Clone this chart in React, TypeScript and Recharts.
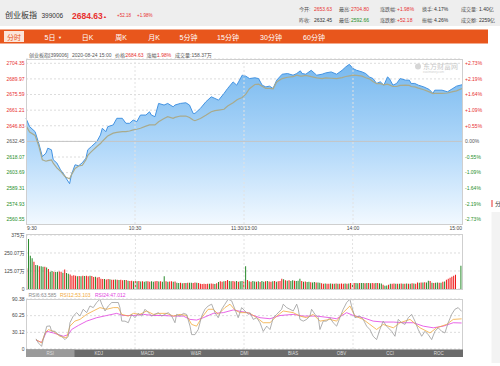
import React from 'react';
import {
  ComposedChart, Area, Line, XAxis, YAxis, CartesianGrid, ReferenceLine,
  BarChart, Bar, Cell, LineChart,
} from 'recharts';

const FONT = 'Arial, "Liberation Sans", "Noto Sans CJK SC", sans-serif';
const RED = '#e8312f';
const GREEN = '#1f8f2a';
const GRAY = '#555555';

// ---------- axis ticks / labels ----------
const prevClose = 2632.45;
const priceTicks = [2560.55, 2574.93, 2589.31, 2603.69, 2618.07, 2632.45, 2646.83, 2661.21, 2675.59, 2689.97, 2704.35];
const pctLabels = ['-2.73%', '-2.19%', '-1.64%', '-1.09%', '-0.55%', '0.00%', '+0.55%', '+1.09%', '+1.64%', '+2.19%', '+2.73%'];
const priceDomain = [2556.4, 2708.3];
const timeTicks = [0, 60, 120, 180, 240];
const timeLabels = ['9:30', '10:30', '11:30/13:00', '14:00', '15:00'];
const volTicks = [0, 125.07, 250.07, 375];
const volTickLabels = ['0', '125.07万', '250.07万', '375万'];
const rsiTicks = [0, 30.12, 60.25, 90.38];

// ---------- price & average (minute index, price, average) ----------
const pricePoints: [number, number, number][] = [
  [0, 2653.6, 2647.0], [2, 2646.0, 2641.0], [5, 2641.4, 2638.0], [7, 2630.8, 2628.5], [9, 2618.5, 2615.5],
  [11, 2621.6, 2614.2], [12, 2626.2, 2614.8], [14, 2624.7, 2615.5], [15, 2615.5, 2612.5], [17, 2612.5, 2608.0],
  [19, 2606.3, 2605.0], [21, 2601.8, 2601.0], [22, 2598.7, 2599.5], [24, 2593.5, 2598.0], [25, 2601.8, 2601.5],
  [27, 2610.9, 2607.5], [29, 2610.0, 2609.8], [31, 2612.8, 2610.5], [33, 2617.0, 2615.5], [34, 2624.7, 2619.5],
  [36, 2627.7, 2623.0], [39, 2632.3, 2627.7], [41, 2638.4, 2630.5], [42, 2644.5, 2632.5], [44, 2641.4, 2635.8],
  [45, 2646.0, 2637.5], [48, 2647.6, 2640.0], [50, 2653.7, 2640.8], [53, 2653.7, 2641.4], [55, 2649.1, 2641.4],
  [57, 2649.1, 2642.0], [59, 2652.1, 2643.0], [61, 2650.6, 2643.6], [63, 2656.7, 2644.5], [66, 2656.7, 2646.5],
  [68, 2659.7, 2647.6], [69, 2656.7, 2647.6], [71, 2655.2, 2647.6], [73, 2667.4, 2650.5], [76, 2665.9, 2653.5],
  [78, 2667.4, 2655.2], [81, 2664.3, 2653.7], [82, 2665.9, 2654.5], [85, 2667.4, 2655.8], [88, 2668.0, 2655.8],
  [90, 2665.9, 2654.5], [92, 2658.2, 2652.1], [93, 2658.2, 2651.5], [96, 2662.8, 2653.5], [99, 2668.9, 2656.5],
  [102, 2673.5, 2659.8], [104, 2672.0, 2660.8], [106, 2670.4, 2661.3], [109, 2676.6, 2662.0], [111, 2681.2, 2665.0],
  [114, 2687.2, 2668.0], [116, 2684.2, 2670.5], [117, 2687.2, 2671.5], [119, 2693.4, 2672.9], [121, 2692.5, 2676.0],
  [123, 2690.3, 2681.0], [126, 2691.0, 2684.8], [128, 2690.3, 2685.1], [130, 2684.2, 2683.3], [132, 2682.6, 2681.2],
  [134, 2683.3, 2681.2], [136, 2681.2, 2680.8], [138, 2688.8, 2687.2], [141, 2694.3, 2690.3], [144, 2694.9, 2691.5],
  [147, 2693.4, 2692.0], [149, 2694.9, 2693.4], [151, 2697.4, 2692.5], [152, 2694.9, 2692.5], [154, 2694.3, 2693.2],
  [157, 2697.9, 2692.0], [160, 2693.4, 2691.0], [163, 2694.3, 2690.3], [165, 2695.5, 2691.0], [168, 2696.4, 2690.6],
  [171, 2694.3, 2690.3], [174, 2697.9, 2691.2], [176, 2701.0, 2692.2], [178, 2703.4, 2692.8], [180, 2699.5, 2693.4],
  [182, 2697.9, 2693.2], [185, 2696.4, 2692.5], [187, 2694.9, 2691.0], [189, 2691.8, 2690.0], [191, 2690.3, 2687.5],
  [193, 2685.8, 2685.6], [195, 2687.3, 2685.6], [197, 2684.2, 2684.5], [199, 2691.8, 2685.1], [200, 2690.3, 2684.5],
  [202, 2684.2, 2683.0], [204, 2685.8, 2683.0], [206, 2690.3, 2684.0], [209, 2688.8, 2684.2], [211, 2688.8, 2684.0],
  [212, 2685.8, 2683.0], [214, 2685.8, 2682.6], [216, 2684.2, 2681.5], [219, 2682.6, 2680.0], [222, 2680.2, 2678.0],
  [224, 2676.6, 2676.4], [225, 2679.6, 2676.6], [229, 2679.6, 2676.6], [232, 2678.1, 2677.0], [235, 2681.2, 2678.2],
  [237, 2683.3, 2679.0], [240, 2684.6, 2681.2],
];

// ---------- volume (万), one per minute, 9:30 .. 15:00 ----------
const volumes: number[] = [
  144, 347, 231, 213, 190, 167, 165, 158, 158, 154,
  154, 150, 139, 120, 125, 120, 118, 120, 122, 120,
  112, 136, 111, 106, 100, 92, 95, 92, 88, 90,
  88, 92, 90, 92, 88, 92, 90, 83, 85, 80,
  83, 72, 69, 70, 66, 69, 67, 65, 64, 66,
  64, 62, 64, 60, 63, 62, 58, 55, 57, 53,
  55, 53, 56, 52, 53, 50, 54, 53, 51, 53,
  50, 53, 55, 52, 53, 50, 88, 53, 50, 52,
  53, 50, 52, 44, 41, 43, 40, 42, 41, 44,
  43, 44, 42, 45, 44, 41, 37, 35, 36, 35,
  37, 36, 38, 37, 35, 40, 48, 53, 50, 53,
  55, 62, 55, 53, 55, 52, 55, 50, 53, 55,
  52, 158, 62, 53, 50, 55, 52, 50, 53, 48,
  55, 50, 53, 55, 52, 50, 53, 55, 50, 53,
  55, 71, 68, 60, 58, 60, 55, 60, 58, 55,
  57, 71, 55, 50, 52, 48, 50, 47, 45, 48,
  46, 45, 44, 40, 37, 38, 36, 37, 38, 36,
  37, 38, 37, 36, 38, 37, 39, 37, 38, 41,
  40, 42, 41, 40, 41, 42, 41, 40, 42, 41,
  40, 41, 40, 42, 41, 40, 38, 30, 23, 25,
  30, 37, 36, 38, 37, 36, 37, 38, 36, 37,
  38, 37, 36, 40, 38, 37, 46, 44, 46, 45,
  47, 46, 57, 55, 44, 42, 44, 45, 43, 44,
  50, 52, 65, 71, 78, 85, 92, 99, 0, 0, 162,
];
// r = up (red), g = down (green)
const volDirection =
  'rgggrggrgg' + 'rgrggrggrr' + 'grggrrrrgr' + 'grgrrgrrgr' + 'rrrgrrgrrg' +
  'rgrrgrgrrg' + 'rgrgrggrrg' + 'grrgrggrgr' + 'rgrggrgrgr' + 'ggrrgrrrrr' +
  'rgrrgrgrrg' + 'rrggrrgrgg' + 'rgrgrggrgr' + 'ggrgrrgrgr' + 'rrgrgrggrg' +
  'ggrgrggrgg' + 'rggrrgrrgr' + 'grgrrrgrgr' + 'grggrggrgr' + 'grrgrggrgg' +
  'rgrrgrgrgr' + 'grgrgrrgrg' + 'rggrgrggrg' + 'rgrrrrrrggg';

// ---------- RSI lines (minute index, value) ----------
const rsi6: [number, number][] = [
  [5.5, 18.3], [6.8, 11], [8.6, 4.8], [9.5, 17], [10.5, 29], [11.4, 41], [13.2, 41.7], [14.1, 32.1], [16, 32], [17.8, 26],
  [19.6, 23], [21.5, 17], [23.3, 23], [24.2, 47.5], [26, 59.5], [27.9, 65.7], [29.7, 59.5], [31.5, 71.8], [33.4, 65.7], [35.2, 77.8],
  [37, 74.8], [38.9, 84], [40.7, 90], [41.7, 81], [43.5, 68.7], [45.3, 77.8], [47.2, 84], [49, 84], [50.8, 84], [51.7, 74.8],
  [52.7, 50.4], [54.5, 50.4], [56.3, 47.5], [58.2, 62.6], [60, 56.6], [61.8, 64.4], [63.7, 59.5], [65.5, 71.8], [67.3, 65.7], [69.2, 59.5],
  [71, 62.6], [72.8, 65.7], [74.7, 59.5], [76.5, 62.6], [78.3, 65.7], [80.2, 59.5], [82, 47.5], [82.9, 62.6], [84.8, 59.5], [86.6, 64.4],
  [88.4, 62.6], [90.3, 41.3], [91.2, 26], [93, 26], [94.8, 35.2], [96.7, 59.5], [98.5, 71.8], [100.3, 77.8], [102.2, 81], [104, 65.7],
  [105.8, 56.6], [107.7, 71.8], [109.5, 81], [111.3, 90], [113.2, 87], [115, 71.8], [116.8, 56.6], [118.7, 74.8], [120.5, 68.7], [122.3, 62.6],
  [123.3, 65.7], [125.1, 53.5], [127, 56.6], [128.8, 47.5], [130.6, 31.8], [132.5, 41.3], [134.3, 35.2], [136.1, 56.6], [138, 62.6], [140.7, 71.8],
  [141.6, 81], [143.5, 74.8], [145.3, 71.8], [147.1, 68.7], [149, 81], [149.9, 71.8], [150.8, 53.5], [152.6, 50.4], [154.5, 53.5], [156.3, 59.5],
  [157.2, 71.8], [159.1, 62.6], [160.9, 56.6], [161.8, 35.2], [163.6, 50.4], [165.5, 50.4], [167.3, 56.6], [169.1, 47.5], [171, 41.3], [172.8, 56.6],
  [174.6, 71.8], [176.5, 84], [178.3, 90], [179.2, 77.8], [181.1, 56.6], [183.8, 59.5], [185.6, 53.5], [187.5, 41.3], [189.3, 35.2], [191.1, 23],
  [193, 17], [194.8, 35.2], [196.6, 50.4], [198.5, 41.3], [201.3, 32], [203.1, 23], [204.9, 53.5], [206.8, 47.5], [208.6, 44.4], [210.4, 56.6],
  [212.3, 62.6], [214.1, 50.4], [215.9, 35.2], [217.8, 23], [219.6, 32], [221.4, 26], [223.3, 17], [225.1, 32], [226.9, 38.3], [228.8, 32],
  [230.6, 29], [232.4, 47.5], [234.3, 62.6], [236.1, 71.8], [237.9, 74.8], [239.8, 68],
];
const rsi12: [number, number][] = [
  [5.5, 17], [8.6, 11], [10.5, 29], [12.3, 35], [15.1, 32], [18.7, 23], [22.4, 20], [24.2, 41.3], [26.9, 50.4], [29.7, 53.5],
  [33.4, 62.6], [37, 68.7], [40.7, 74.8], [44.4, 71.8], [48.1, 74.8], [50.8, 74.8], [52.7, 62.6], [56.3, 59.5], [59.1, 64.4], [62.7, 62.6],
  [66.4, 68.7], [70.1, 62.6], [73.7, 64.4], [77.4, 64.4], [81.1, 59.5], [84.8, 62.6], [88.4, 60.5], [91.2, 44.4], [93.9, 41.3], [96.7, 56.6],
  [100.3, 71.8], [103.1, 71.8], [105.8, 62.6], [109.5, 74.8], [112.3, 81], [115, 70.6], [117.8, 65.7], [121.4, 65.7], [123.3, 64.4], [127, 56.6],
  [130.6, 47.5], [134.3, 47.5], [138, 59.5], [141.6, 68.7], [147.1, 65.7], [150.8, 59.5], [154.5, 56.6], [158.1, 62.6], [161.8, 50.4], [167.3, 53.5],
  [171, 50.4], [174.6, 65.7], [178.3, 77.8], [181.1, 59.5], [185.6, 53.5], [189.3, 44.4], [193, 35.2], [196.6, 44.4], [202.2, 38.3], [205.9, 47.5],
  [211.4, 53.5], [216.9, 38.3], [222.4, 29], [226, 38.3], [231.5, 44.4], [235.2, 53.5], [239.8, 54.5],
];
const rsi24: [number, number][] = [
  [5.5, 16], [8.6, 12], [11.4, 32], [15.1, 29], [20.6, 23], [23.3, 26], [25.1, 35.2], [28.8, 42.5], [33.4, 50.4], [38.9, 56.6],
  [44.4, 60.5], [49.9, 64.4], [53.6, 60.5], [59.1, 60.5], [64.6, 62.6], [70.1, 60.5], [75.6, 60.5], [81.1, 59.5], [86.6, 59.5], [90.3, 53.5],
  [93.9, 52.3], [97.6, 56.6], [103.1, 64.4], [108.6, 65.7], [114.1, 70.6], [119.6, 67], [122.3, 65.7], [123.3, 62.6], [128.8, 56.6], [134.3, 54.7],
  [139.8, 60.5], [147.1, 62.6], [152.6, 59.5], [160, 59.5], [167.3, 56.6], [171, 54.7], [176.5, 65.7], [180.2, 60.5], [185.6, 56.6], [191.1, 50.4],
  [196.6, 48.7], [202.2, 48.7], [207.7, 47.5], [213.2, 47.5], [218.7, 41.3], [224.2, 38.3], [229.7, 41.3], [235.2, 47.5], [239.8, 47.0],
];

// ---------- header texts ----------
const statsRow1: [string, string, string][] = [
  ['今开:', '2653.63', 'red'], ['最高:', '2704.80', 'red'], ['涨跌幅:', '+1.98%', 'red'], ['换手:', '4.17%', 'dark'], ['成交量:', '1.40亿', 'dark'],
];
const statsRow2: [string, string, string][] = [
  ['昨收:', '2632.45', 'dark'], ['最低:', '2592.66', 'green'], ['涨跌额:', '+52.18', 'red'], ['振幅:', '4.26%', 'dark'], ['成交额:', '2259亿', 'dark'],
];
const tabs = ['分时', '5日', '日K', '周K', '月K', '5分钟', '15分钟', '30分钟', '60分钟'];
const indicatorTabs = ['RSI', 'KDJ', 'MACD', 'W&R', 'DMI', 'BIAS', 'OBV', 'CCI', 'ROC'];

// ---------- derived chart tables ----------
const priceData = pricePoints.map(([m, price, avg]) => ({ m, price, avg }));
const volData = volumes.map((v, i) => ({ i, v, up: volDirection[i] === 'r' }));
const rsiMap = new Map<number, any>();
const addRsi = (arr: [number, number][], key: string) => {
  arr.forEach(([m, v]) => {
    const row = rsiMap.get(m) || { m };
    row[key] = v;
    rsiMap.set(m, row);
  });
};
addRsi(rsi6, 'r6');
addRsi(rsi12, 'r12');
addRsi(rsi24, 'r24');
const rsiData = Array.from(rsiMap.values()).sort((a, b) => a.m - b.m);

const colorOf = (v: number) => (Math.abs(v - prevClose) < 0.01 ? GRAY : v > prevClose ? RED : GREEN);

const PriceTick = (props: any) => {
  const { y, payload } = props;
  const v = payload.value as number;
  const idx = priceTicks.indexOf(v);
  const c = colorOf(v);
  return (
    <g>
      <text x={24.5} y={y} dy={1.8} textAnchor="end" fontSize={5} fill={c} fontFamily={FONT}>{v.toFixed(2)}</text>
      <text x={465} y={y} dy={1.8} textAnchor="start" fontSize={5} fill={c} fontFamily={FONT}>{pctLabels[idx]}</text>
    </g>
  );
};

const TimeTick = (props: any) => {
  const { x, payload } = props;
  const idx = timeTicks.indexOf(payload.value);
  const anchor = idx === 0 ? 'start' : idx === timeTicks.length - 1 ? 'end' : 'middle';
  return (
    <text x={idx === 0 ? x + 1 : x} y={229.5} textAnchor={anchor} fontSize={5} fill="#444" fontFamily={FONT}>
      {timeLabels[idx]}
    </text>
  );
};

const VolTick = (props: any) => {
  const { y, payload } = props;
  const idx = volTicks.indexOf(payload.value);
  return (
    <text x={24.5} y={y} dy={1.8} textAnchor="end" fontSize={5} fill="#444" fontFamily={FONT}>{volTickLabels[idx]}</text>
  );
};

const RsiTick = (props: any) => {
  const { y, payload } = props;
  const v = payload.value as number;
  return (
    <text x={24.5} y={y} dy={1.8} textAnchor="end" fontSize={5} fill="#444" fontFamily={FONT}>
      {v === 0 ? '0' : v.toFixed(2)}
    </text>
  );
};

const frame = (left: number, top: number, width: number, height: number): React.CSSProperties => ({
  position: 'absolute', left, top, width, height, border: '1px solid #cfcfcf', boxSizing: 'border-box', pointerEvents: 'none',
});

export default function App() {
  const statColor = (k: string) => (k === 'red' ? RED : k === 'green' ? GREEN : '#333');
  const statCols = [[299, 314], [339, 351], [380, 397], [422, 434], [461, 479]];
  const tabX = [14, 50, 87.5, 121, 154, 188.5, 228, 271, 314];
  return (
    <div style={{ position: 'absolute', left: 0, top: 0, width: 500, height: 366, background: '#fff', overflow: 'hidden', fontFamily: FONT }}>
      {/* Price chart */}
      <div style={{ position: 'absolute', left: 0, top: 0 }}>
        <ComposedChart width={500} height={236} data={priceData} margin={{ top: 59, right: 38, bottom: 0, left: 0 }}>
          <defs>
            <linearGradient id="priceFill" x1="0" y1="0" x2="0" y2="1">
              <stop offset="0%" stopColor="#78b9ef" />
              <stop offset="55%" stopColor="#b5dafa" />
              <stop offset="100%" stopColor="#f2f9ff" />
            </linearGradient>
          </defs>
          <CartesianGrid vertical={false} strokeDasharray="2 2" stroke="#dcdcdc" />
          <XAxis type="number" dataKey="m" domain={[0, 240]} ticks={timeTicks} interval={0} height={12}
            axisLine={false} tickLine={false} tick={<TimeTick />} />
          <YAxis type="number" domain={priceDomain} ticks={priceTicks} interval={0} width={26}
            axisLine={false} tickLine={false} tick={<PriceTick />} allowDataOverflow />
          {[60, 120, 180].map((t) => (
            <ReferenceLine key={t} x={t} stroke="#e2e2e2" strokeDasharray="2 2" />
          ))}
          <Area type="linear" dataKey="price" stroke="#4393e2" strokeWidth={1} fill="url(#priceFill)" fillOpacity={1}
            dot={false} activeDot={false} isAnimationActive={false} />
          <ReferenceLine y={prevClose} stroke="#c4c4c4" />
          <Line type="linear" dataKey="avg" stroke="#a9aa8c" strokeWidth={1.2} dot={false} activeDot={false} isAnimationActive={false} />
        </ComposedChart>
      </div>
      <div style={frame(26, 59, 437, 166)} />

      {/* Volume chart */}
      <div style={{ position: 'absolute', left: 0, top: 229 }}>
        <BarChart width={500} height={66} data={volData} margin={{ top: 6, right: 38, bottom: 6, left: 0 }} barCategoryGap="12%">
          <CartesianGrid vertical={false} strokeDasharray="2 2" stroke="#dcdcdc" />
          <XAxis dataKey="i" type="category" hide />
          <YAxis type="number" domain={[0, 375]} ticks={volTicks} interval={0} width={26}
            axisLine={false} tickLine={false} tick={<VolTick />} />
          {[60, 120, 180].map((t) => (
            <ReferenceLine key={t} x={t} stroke="#e2e2e2" strokeDasharray="2 2" />
          ))}
          <Bar dataKey="v" isAnimationActive={false}>
            {volData.map((d) => (
              <Cell key={d.i} fill={d.up ? '#f01818' : '#27892a'} />
            ))}
          </Bar>
        </BarChart>
      </div>
      <div style={frame(26, 234, 437, 56)} />

      {/* RSI chart */}
      <div style={{ position: 'absolute', left: 0, top: 293 }}>
        <LineChart width={500} height={62} data={rsiData} margin={{ top: 6, right: 38, bottom: 6, left: 0 }}>
          <CartesianGrid vertical={false} strokeDasharray="2 2" stroke="#dcdcdc" />
          <XAxis type="number" dataKey="m" domain={[0, 240]} hide />
          <YAxis type="number" domain={[0, 90.38]} ticks={rsiTicks} interval={0} width={26}
            axisLine={false} tickLine={false} tick={<RsiTick />} allowDataOverflow />
          {[60, 120, 180].map((t) => (
            <ReferenceLine key={t} x={t} stroke="#e2e2e2" strokeDasharray="2 2" />
          ))}
          <Line type="linear" dataKey="r24" stroke="#e23fe0" strokeWidth={0.8} dot={false} connectNulls isAnimationActive={false} />
          <Line type="linear" dataKey="r12" stroke="#f2a93b" strokeWidth={0.8} dot={false} connectNulls isAnimationActive={false} />
          <Line type="linear" dataKey="r6" stroke="#9c9c9c" strokeWidth={0.8} dot={false} connectNulls isAnimationActive={false} />
        </LineChart>
      </div>
      <div style={frame(26, 298.5, 437, 52)} />

      {/* static text overlay */}
      <svg width={500} height={366} style={{ position: 'absolute', left: 0, top: 0, pointerEvents: 'none' }} fontFamily={FONT}>
        <rect x={0} y={0} width={500} height={26} fill="#eeeeee" />
        <text x={5} y={18} fontSize={8} fill="#333">创业板指</text>
        <text x={41.5} y={18} fontSize={6.5} fill="#333">399006</text>
        <text x={72} y={18.5} fontSize={8.5} fontWeight="bold" fill={RED}>2684.63</text>
        <text x={103} y={18} fontSize={4} fill={RED}>▲</text>
        <text x={117} y={17} fontSize={4.5} fill={RED}>+52.18</text>
        <text x={137} y={17} fontSize={4.5} fill={RED}>+1.98%</text>
        {statsRow1.map(([l, v, c], k) => (
          <g key={'a' + k}>
            <text x={statCols[k][0]} y={11.3} fontSize={5} fill="#555">{l}</text>
            <text x={statCols[k][1]} y={11.3} fontSize={5} fill={statColor(c)}>{v}</text>
          </g>
        ))}
        {statsRow2.map(([l, v, c], k) => (
          <g key={'b' + k}>
            <text x={statCols[k][0]} y={22} fontSize={5} fill="#555">{l}</text>
            <text x={statCols[k][1]} y={22} fontSize={5} fill={statColor(c)}>{v}</text>
          </g>
        ))}

        <rect x={0} y={29.5} width={488} height={14} fill="#e8561c" />
        <rect x={4} y={31} width={20} height={11} fill="#fbe5d9" />
        {tabs.map((t, k) => (
          <text key={t} x={tabX[k]} y={39.5} fontSize={7} textAnchor="middle" fill={k === 0 ? '#e8561c' : '#fff'}>
            {t}
          </text>
        ))}
        <text x={58} y={39} fontSize={4} fill="#fff">▼</text>

        <text x={29} y={57} fontSize={5} fill="#555">创业板指[399006]</text>
        <text x={72} y={57} fontSize={5} fill="#555">2020-08-24 15:00</text>
        <text x={115} y={57} fontSize={5} fill="#555">价格:</text>
        <text x={125.5} y={57} fontSize={5} fill={RED}>2684.63</text>
        <text x={146.5} y={57} fontSize={5} fill="#555">涨幅:</text>
        <text x={157} y={57} fontSize={5} fill={RED}>1.98%</text>
        <text x={175} y={57} fontSize={5} fill="#555">成交量:</text>
        <text x={191.5} y={57} fontSize={5} fill="#555">158.37万</text>

        <circle cx={418} cy={66.5} r={3} fill="#d6d6d6" />
        <text x={423} y={69} fontSize={7} fill="#c8c8c8">东方财富网</text>
        <text x={423} y={73} fontSize={3} fill="#d2d2d2">eastmoney.com</text>

        <text x={28.5} y={297} fontSize={5} fill="#888">RSI6:63.585</text>
        <text x={60} y={297} fontSize={5} fill="#f2a93b">RSI12:53.103</text>
        <text x={95} y={297} fontSize={5} fill="#e23fe0">RSI24:47.012</text>

        <rect x={26} y={349.5} width={437} height={7.5} fill="#6b6b6b" />
        <rect x={26} y={349.5} width={48.5} height={7.5} fill="#9a9a9a" />
        {indicatorTabs.map((t, k) => (
          <text key={t} x={26 + 48.55 * (k + 0.5)} y={355.2} fontSize={4.5} textAnchor="middle" fill="#dedede">{t}</text>
        ))}

        <rect x={491.5} y={212} width={8.5} height={151} fill="#f3f3f3" />
        <rect x={491.5} y={200} width={1} height={7} fill={RED} />
        <text x={495} y={206} fontSize={6} fill="#333">分</text>
      </svg>
    </div>
  );
}
